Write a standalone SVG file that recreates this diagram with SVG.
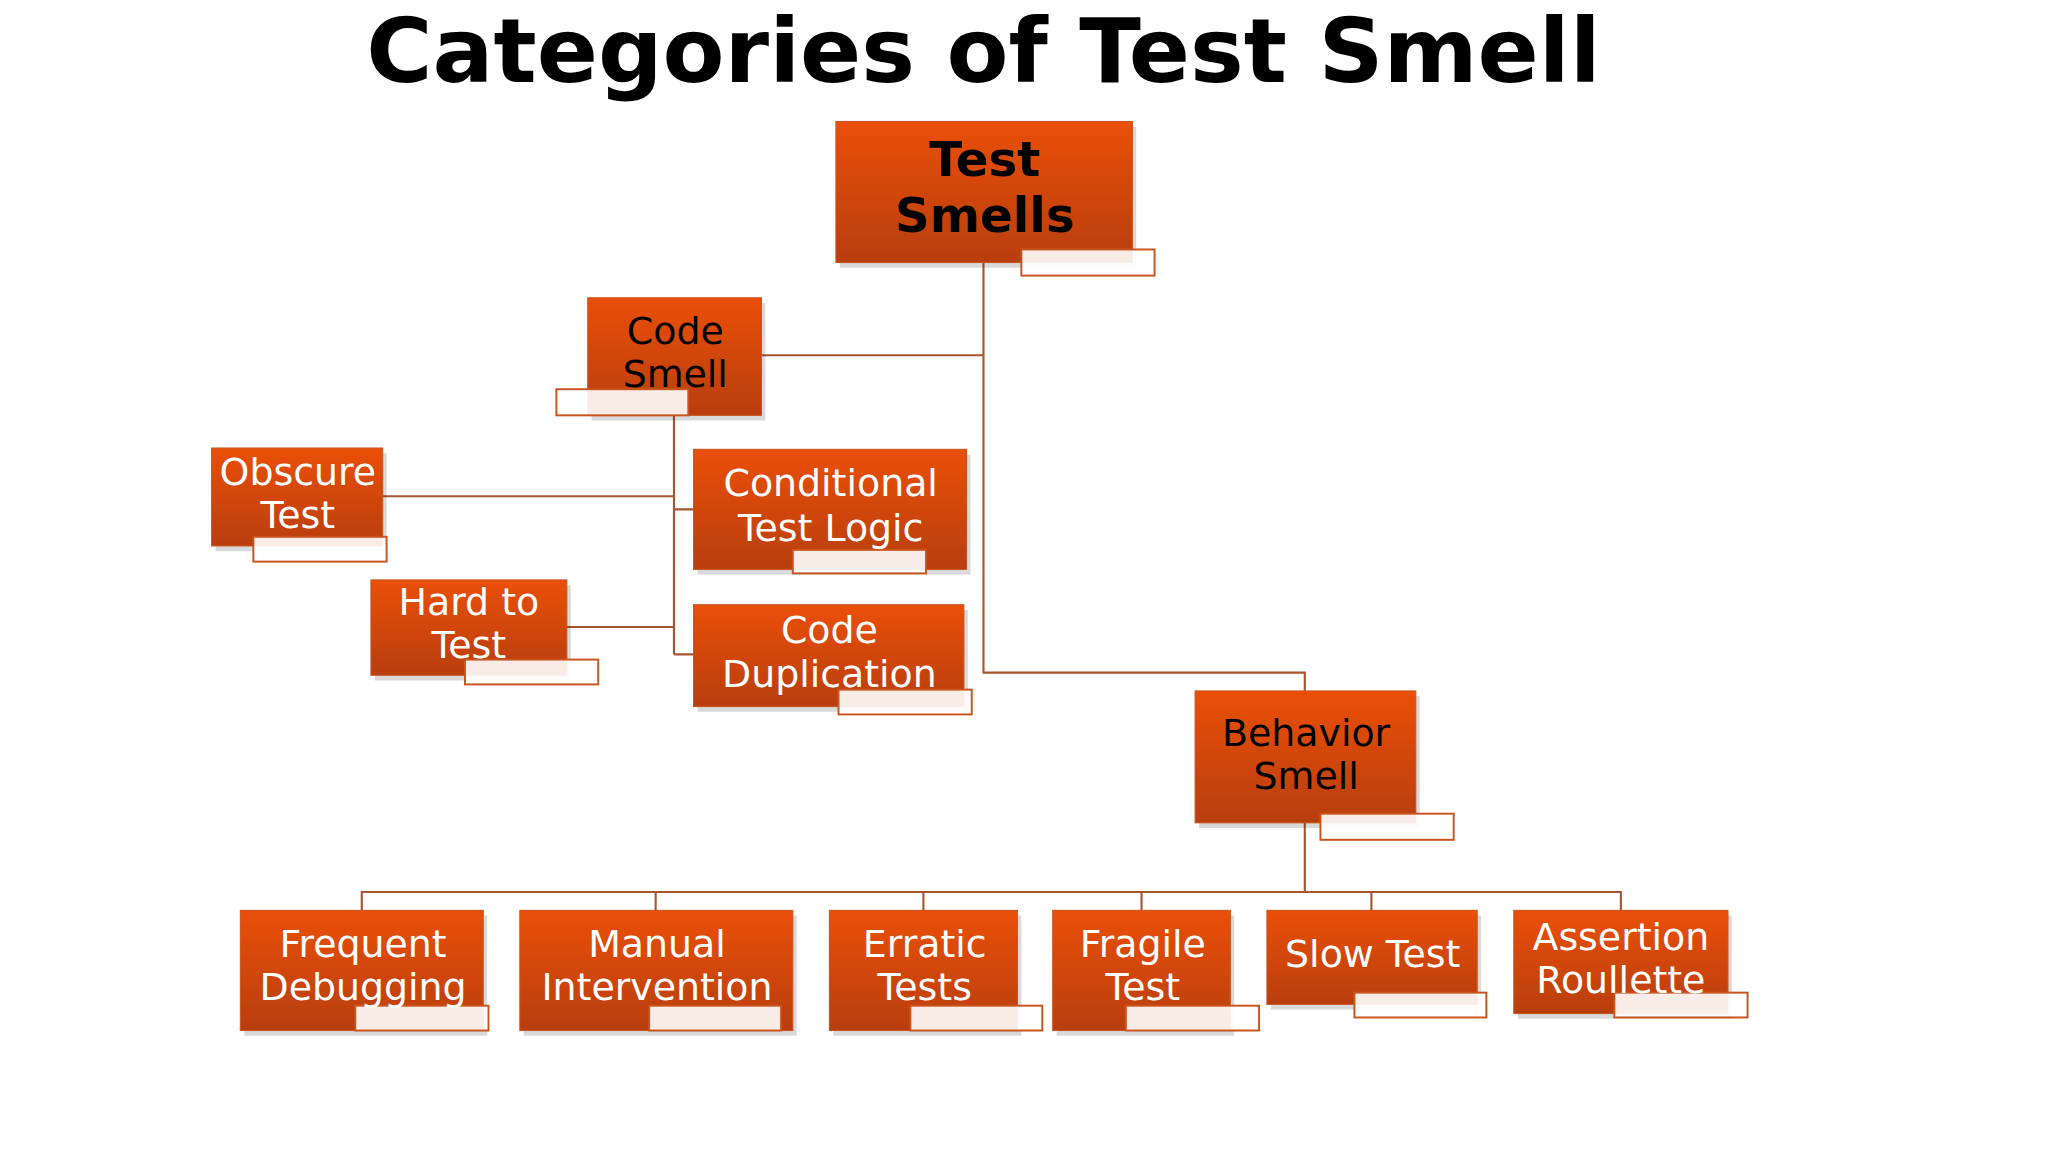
<svg xmlns="http://www.w3.org/2000/svg" width="2048" height="1152" viewBox="0 0 2048 1152">
<defs>
<linearGradient id="g" x1="0" y1="0" x2="0" y2="1"><stop offset="0" stop-color="#ea4f08"/><stop offset="1" stop-color="#b83e0e"/></linearGradient>
<style>
.n{fill:url(#g);stroke:#c9541e;stroke-width:0.8}
.sh{fill:#000;opacity:0.15}
.lb{fill:#fff;fill-opacity:0.9;stroke:#c9541e;stroke-width:1.5}
.c{fill:none;stroke:#a9542e;stroke-width:1.6}
text{font-family:"DejaVu Sans","Liberation Sans",sans-serif;text-anchor:middle}
.w{fill:#fff;font-size:29px}
.b{fill:#000;font-size:29px}
</style>
</defs>
<rect width="2048" height="1152" fill="#fff"/>
<g transform="scale(1.3061)">
<text x="753" y="63" font-size="68" font-weight="bold" fill="#000" textLength="945" lengthAdjust="spacingAndGlyphs">Categories of Test Smell</text>
<g id="connectors">
<path class="c" d="M753,201V515H999V529M583,272H753M516,318V501M293,380H516M516,390H531M434,480H516M516,501H531M999,630V683M277,697V683H1241V697M502,683V697M707,683V697M874,683V697M1050,683V697"/>
</g>
<g id="test-smells"><rect class="sh" x="643" y="97" width="227" height="108"/><rect class="n" x="640" y="93" width="227" height="108"/><rect class="lb" x="782" y="191" width="102" height="20"/><text x="754" y="135" font-size="37" font-weight="bold">Test</text><text x="754" y="178" font-size="37" font-weight="bold">Smells</text></g>
<g id="code-smell"><rect class="sh" x="453" y="232" width="133" height="90"/><rect class="n" x="450" y="228" width="133" height="90"/><rect class="lb" x="426" y="298" width="101" height="20"/><text class="b" x="517" y="263">Code</text><text class="b" x="517" y="296">Smell</text></g>
<g id="obscure-test"><rect class="sh" x="165" y="347" width="131" height="75"/><rect class="n" x="162" y="343" width="131" height="75"/><rect class="lb" x="194" y="411" width="102" height="19"/><text class="w" x="228" y="371">Obscure</text><text class="w" x="228" y="404">Test</text></g>
<g id="conditional-test-logic"><rect class="sh" x="534" y="348" width="209" height="92"/><rect class="n" x="531" y="344" width="209" height="92"/><rect class="lb" x="607" y="421" width="102" height="18"/><text class="w" x="636" y="380">Conditional</text><text class="w" x="636" y="414">Test Logic</text></g>
<g id="hard-to-test"><rect class="sh" x="287" y="448" width="150" height="73"/><rect class="n" x="284" y="444" width="150" height="73"/><rect class="lb" x="356" y="505" width="102" height="19"/><text class="w" x="359" y="471">Hard to</text><text class="w" x="359" y="504">Test</text></g>
<g id="code-duplication"><rect class="sh" x="534" y="467" width="207" height="78"/><rect class="n" x="531" y="463" width="207" height="78"/><rect class="lb" x="642" y="528" width="102" height="19"/><text class="w" x="635" y="492">Code</text><text class="w" x="635" y="526">Duplication</text></g>
<g id="behavior-smell"><rect class="sh" x="918" y="533" width="169" height="101"/><rect class="n" x="915" y="529" width="169" height="101"/><rect class="lb" x="1011" y="623" width="102" height="20"/><text class="b" x="1000" y="571">Behavior</text><text class="b" x="1000" y="604">Smell</text></g>
<g id="frequent-debugging"><rect class="sh" x="187" y="701" width="186" height="92"/><rect class="n" x="184" y="697" width="186" height="92"/><rect class="lb" x="272" y="770" width="102" height="19"/><text class="w" x="278" y="733">Frequent</text><text class="w" x="278" y="766">Debugging</text></g>
<g id="manual-intervention"><rect class="sh" x="401" y="701" width="209" height="92"/><rect class="n" x="398" y="697" width="209" height="92"/><rect class="lb" x="497" y="770" width="101" height="19"/><text class="w" x="503" y="733">Manual</text><text class="w" x="503" y="766">Intervention</text></g>
<g id="erratic-tests"><rect class="sh" x="638" y="701" width="144" height="92"/><rect class="n" x="635" y="697" width="144" height="92"/><rect class="lb" x="697" y="770" width="101" height="19"/><text class="w" x="708" y="733">Erratic</text><text class="w" x="708" y="766">Tests</text></g>
<g id="fragile-test"><rect class="sh" x="809" y="701" width="136" height="92"/><rect class="n" x="806" y="697" width="136" height="92"/><rect class="lb" x="862" y="770" width="102" height="19"/><text class="w" x="875" y="733">Fragile</text><text class="w" x="875" y="766">Test</text></g>
<g id="slow-test"><rect class="sh" x="973" y="701" width="161" height="72"/><rect class="n" x="970" y="697" width="161" height="72"/><rect class="lb" x="1037" y="760" width="101" height="19"/><text class="w" x="1051" y="740">Slow Test</text></g>
<g id="assertion-roullette"><rect class="sh" x="1162" y="701" width="164" height="79"/><rect class="n" x="1159" y="697" width="164" height="79"/><rect class="lb" x="1236" y="760" width="102" height="19"/><text class="w" x="1241" y="727">Assertion</text><text class="w" x="1241" y="760">Roullette</text></g>
</g>
</svg>
